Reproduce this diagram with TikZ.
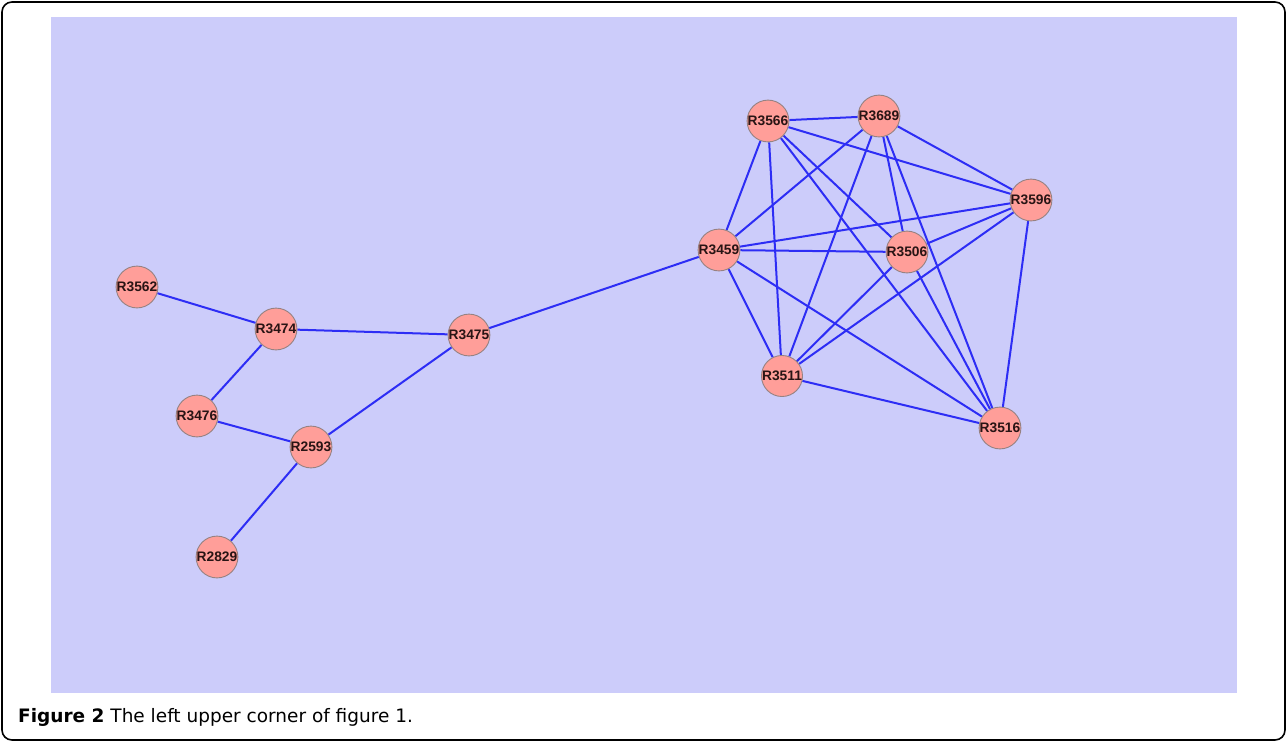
\documentclass[tikz,border=0pt]{standalone}
\usepackage{fontspec}
\setmainfont{Liberation Sans}
\newfontfamily\capfont{DejaVu Sans}
\definecolor{bgblue}{RGB}{204,204,250}
\definecolor{nodefill}{RGB}{255,158,153}
\definecolor{nodeedge}{RGB}{150,130,130}
\definecolor{edgeblue}{RGB}{45,45,245}
\definecolor{labtext}{RGB}{40,20,20}
\pgfdeclarelayer{bglayer}
\pgfdeclarelayer{edgelayer}
\pgfsetlayers{bglayer,edgelayer,main}
\begin{document}
\begin{tikzpicture}[x=1pt,y=-1pt,
  gnode/.style={circle,draw=nodeedge,line width=0.9pt,fill=nodefill,minimum size=41pt,inner sep=0pt,
    font=\fontsize{13.8}{14}\selectfont\bfseries,text=labtext},
  gedge/.style={draw=edgeblue,line width=2pt}]
\useasboundingbox (0,0) rectangle (1287,742);
\begin{pgfonlayer}{bglayer}
\draw[line width=1.6pt,rounded corners=10pt] (2,2) rectangle (1285,740);
\fill[bgblue] (51,17) rectangle (1237,693);
\end{pgfonlayer}
% nodes
\node[gnode] (R3566) at (768,121) {R3566};
\node[gnode] (R3689) at (879,116) {R3689};
\node[gnode] (R3596) at (1031,200) {R3596};
\node[gnode] (R3459) at (719,250) {R3459};
\node[gnode] (R3506) at (907,252) {R3506};
\node[gnode] (R3511) at (782,376) {R3511};
\node[gnode] (R3516) at (1000,428) {R3516};
\node[gnode] (R3562) at (137,287) {R3562};
\node[gnode] (R3474) at (276,329) {R3474};
\node[gnode] (R3475) at (469,335) {R3475};
\node[gnode] (R3476) at (197,416) {R3476};
\node[gnode] (R2593) at (311,447) {R2593};
\node[gnode] (R2829) at (217,557) {R2829};
% edges
\begin{pgfonlayer}{edgelayer}
\foreach \a/\b in {R3562/R3474,R3474/R3475,R3474/R3476,R3476/R2593,R2593/R3475,R2593/R2829,R3475/R3459,
  R3566/R3689,R3566/R3596,R3566/R3459,R3566/R3506,R3566/R3511,R3566/R3516,
  R3689/R3596,R3689/R3459,R3689/R3506,R3689/R3511,R3689/R3516,
  R3596/R3459,R3596/R3506,R3596/R3511,R3596/R3516,
  R3459/R3506,R3459/R3511,R3459/R3516,
  R3506/R3511,R3506/R3516,R3511/R3516}
  {\path[gedge] (\a) -- (\b);}
\end{pgfonlayer}
\node[anchor=base west,inner sep=0pt,font=\capfont\fontsize{18.5}{20}\selectfont] (cap) at (18,722)
  {\textbf{Figure 2} The left upper corner of figure 1.};
\end{tikzpicture}
\end{document}
